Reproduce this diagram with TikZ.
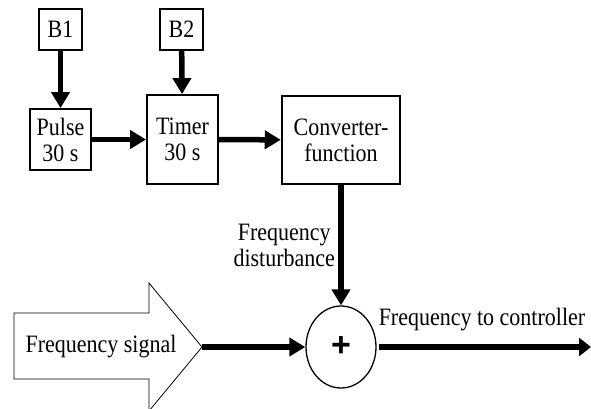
\documentclass[tikz,border=0pt]{standalone}
\usepackage{fontspec}
\setmainfont{Liberation Serif}[FakeStretch=0.88]
\setsansfont{Liberation Sans}
\usetikzlibrary{positioning, arrows.meta, shapes.geometric}

\begin{document}
\begin{tikzpicture}[
    x=1pt, y=-1pt,
    font=\fontsize{25}{26}\selectfont,
    inbox/.style={rectangle, draw, line width=1.3pt, minimum width=43pt,
                  minimum height=41pt, inner sep=0pt},
    block/.style={rectangle, draw, line width=1.8pt, align=center, inner sep=0pt},
    flow/.style={-{Triangle[length=16pt,width=18pt]}, line width=5.5pt}
  ]
  \useasboundingbox (0,0) rectangle (591,408);

  \node[inbox] (b1) at (60.5,29.5) {B1};
  \node[inbox] (b2) at (181.5,29.5) {B2};
  \node[block, minimum width=61pt, minimum height=61pt] (pulse) at (60.5,139.5) {Pulse\\30 s};
  \node[block, minimum width=71pt, minimum height=89pt] (timer) at (182.5,139.5) {Timer\\30 s};
  \node[block, line width=2.5pt, minimum width=118pt, minimum height=88pt] (conv) at (341,140) {Converter-\\function};
  \node[ellipse, draw, line width=1.3pt, minimum width=70pt, minimum height=82pt,
        inner sep=0pt, font=\fontsize{34}{34}\sffamily\bfseries] (sum) at (341,347) {+};

  % input signal arrow
  \draw[line width=0.8pt] (14,313) -- (149,313) -- (149,283) -- (202,347)
    -- (149,411) -- (149,379) -- (14,379) -- cycle;
  \node (sig) at (101,347) {Frequency signal};
  \coordinate (tip) at (202,347);
  \coordinate (out) at (591,347);

  \draw[flow] (b1) -- (pulse);
  \draw[flow] (b2) -- (timer);
  \draw[flow] (pulse) -- (timer);
  \draw[flow] (timer) -- (conv);
  \draw[flow] (conv) -- node[midway, left, align=center, name=dist] {Frequency\\disturbance} (sum);
  \draw[flow] (tip) -- (sum);
  \draw[flow, -{Triangle[length=12pt,width=18pt]}, shorten <=2pt] (sum) -- (out);
  \node[anchor=base] (ctrl) at (482,325) {Frequency to controller};
\end{tikzpicture}
\end{document}
